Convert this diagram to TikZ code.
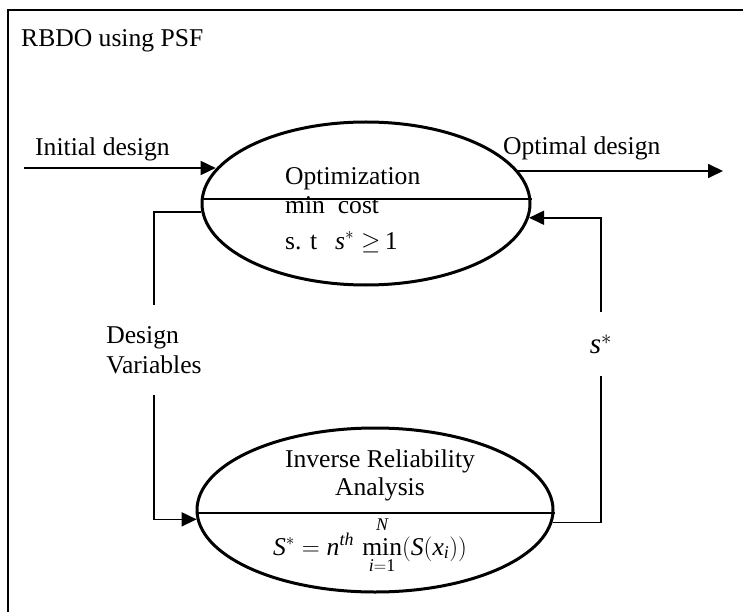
\documentclass[tikz,border=0pt]{standalone}
\usepackage{amsmath}
\usepackage{fontspec}
\setmainfont{Liberation Serif}
\usetikzlibrary{shapes.geometric,arrows.meta,calc}

\begin{document}
\begin{tikzpicture}[x=1pt,y=-1pt,
	font=\fontsize{25.6}{30}\selectfont,
	box/.style={draw,ellipse,line width=3pt,inner sep=0pt},
	flow/.style={line width=1.7pt,-{Triangle[length=15pt,width=14pt]}},
	wire/.style={line width=1.7pt}]
	\tikzstyle{every node}=[inner sep=0pt]
	\useasboundingbox (0,0) rectangle (743,612);
	% frame
	\draw[line width=1.8pt] (8,612) -- (8,10) -- (743,10);
	\node[anchor=base west] (title) at (21,47) {RBDO using PSF};

	% optimization loop
	\node[box,minimum width=328,minimum height=163] (opt) at (366,203.5) {};
	\draw[wire] ($(opt.west)+(0,-4.5)$) -- ($(opt.east)+(0,-4.5)$);
	\node[anchor=base west] (optname) at (285,185) {Optimization};
	\node[anchor=base west] (cost) at (285,214) {min\ \ cost};
	\node[anchor=base west] (cons) at (285,249) {s. t\hspace{18pt}$\mathit{s}^{*}\geq$\,1};

	\node[box,minimum width=356,minimum height=164] (irel) at (375,510) {};
	\draw[wire] ($(irel.west)+(0,3)$) -- ($(irel.east)+(0,3)$);
	\node[anchor=base] (invname) at (380,467) {Inverse Reliability};
	\node[anchor=base] (anl) at (380,495) {Analysis};
	\node[anchor=base] (nth) at (370,555) {$\mathit{S}^{*} = \mathit{n}^{\mathit{th}}\,\min\limits_{\rule{0pt}{10pt}\mathit{i}=\text{1}}^{\mathit{N}\rule[-5pt]{0pt}{0pt}}(\mathit{S}(\mathit{x}_{\mathit{i}}))$};

	% in and out
	\node[anchor=base west] (init) at (35,156) {Initial design};
	\node[anchor=base west] (optd) at (503,155) {Optimal design};
	\coordinate (idesign) at (24,168);
	\coordinate (odesign) at (723,171);
	\draw[flow] (idesign) -- (idesign -| opt.167);
	\draw[flow] (opt.13 |- odesign) -- (odesign);

	% feedback
	\node[align=left,minimum height=89] (dvar) at (154,350) {Design\\Variables};
	\draw[wire] (opt.183) -| (dvar.north);
	\draw[flow] (dvar.south) |- (irel.183);

	\node[font=\fontsize{29}{34}\selectfont,minimum height=64] (sstar) at (601,344) {$\mathit{s}^{*}$};
	\draw[wire] (irel.-4) -| (sstar.south);
	\draw[flow] (sstar.north) |- (opt.-5);
\end{tikzpicture}
\end{document}
